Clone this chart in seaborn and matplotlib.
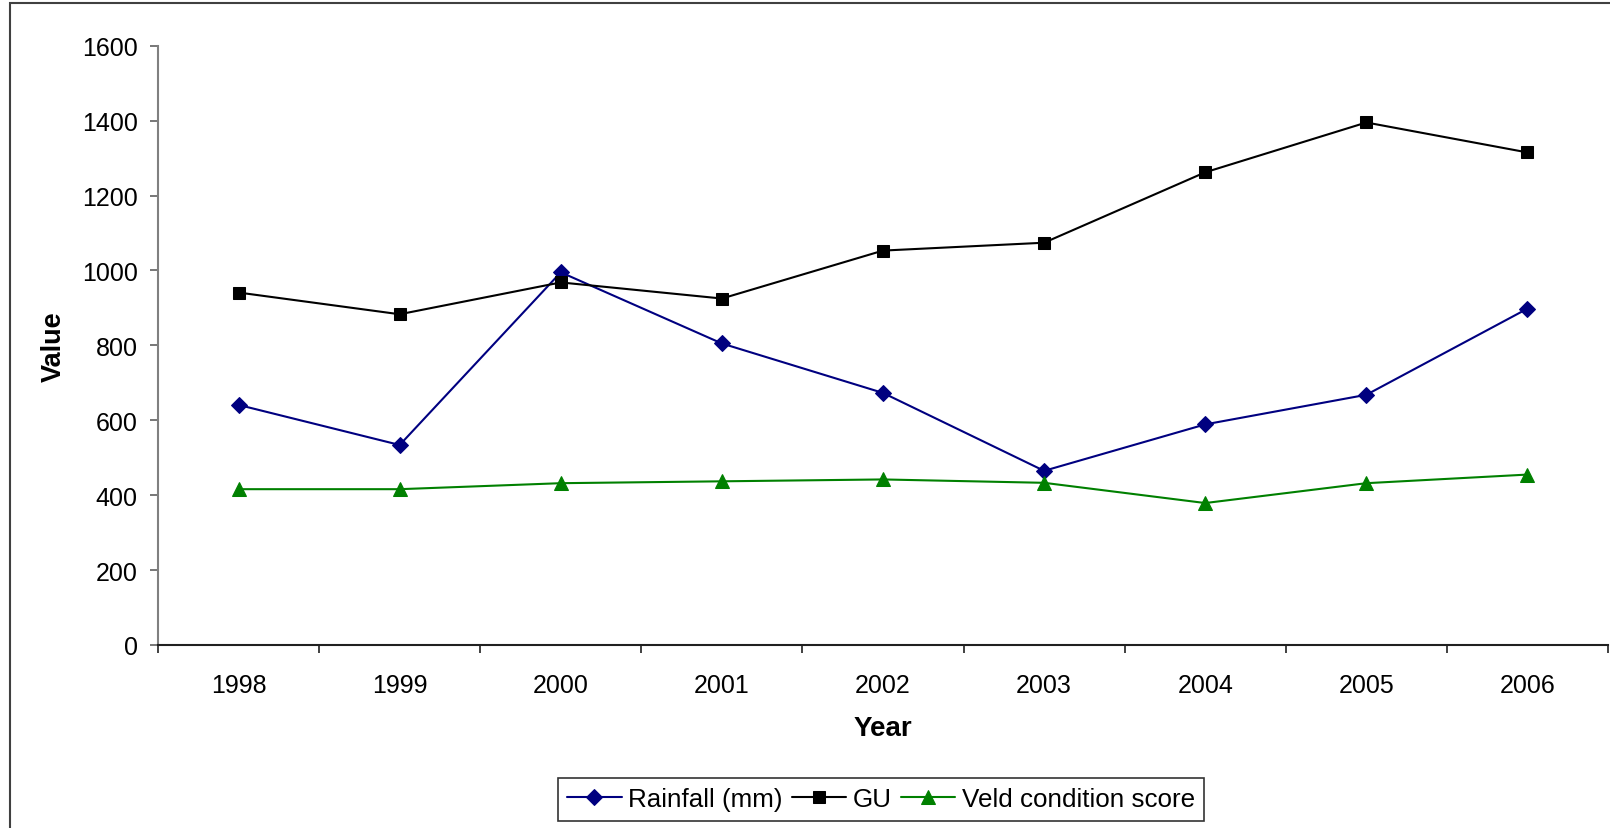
import matplotlib
matplotlib.use("Agg")
import matplotlib.pyplot as plt
from matplotlib.patches import Rectangle
import numpy as np
import pandas as pd
import seaborn as sns

years = [1998, 1999, 2000, 2001, 2002, 2003, 2004, 2005, 2006]
rainfall = [641, 534, 995, 805, 673, 465, 589, 668, 898]
gu = [941, 883, 968, 925, 1053, 1074, 1262, 1395, 1315]
veld = [416, 416, 432, 437, 442, 433, 379, 432, 455]
y_ticks = [0, 200, 400, 600, 800, 1000, 1200, 1400, 1600]

sns.set_theme(style="white")
plt.rcParams["font.family"] = ["Liberation Sans", "DejaVu Sans"]
plt.rcParams["text.color"] = "black"
plt.rcParams["axes.labelcolor"] = "black"

W, H = 1610, 829
fig = plt.figure(figsize=(W / 100, H / 100), dpi=100)
fig.patch.set_facecolor("white")

# chart-area frame
fig.add_artist(Rectangle((10 / W, -0.05), 1.2, 1 - 4 / H + 0.05,
                         transform=fig.transFigure, fill=False,
                         edgecolor="#404040", linewidth=1.5))

ax = fig.add_axes([158 / W, (H - 646) / H, 1450 / W, 599.3 / H])
ax.set_facecolor("white")

df = pd.DataFrame({"Year": years, "Rainfall (mm)": rainfall,
                   "GU": gu, "Veld condition score": veld})

series = [
    ("Rainfall (mm)", "#000080", "D", 8.5),
    ("GU", "#000000", "s", 8.5),
    ("Veld condition score", "#008000", "^", 10),
]
for name, col, mk, ms in series:
    sns.lineplot(data=df, x="Year", y=name, ax=ax, color=col, marker=mk,
                 markersize=ms, markeredgecolor=col, linewidth=1.5,
                 label=name, legend=False)

ax.set_xlim(years[0] - 0.5, years[-1] + 0.5)
ax.set_ylim(0, 1600)
ax.set_yticks(y_ticks)
ax.set_yticklabels([str(v) for v in y_ticks])
ax.set_xticks(years)
ax.set_xticklabels([str(y) for y in years])
ax.set_xticks(np.arange(years[0] - 0.5, years[-1] + 1.0, 1.0), minor=True)

for s in ["top", "right"]:
    ax.spines[s].set_visible(False)
ax.spines["left"].set_color("#808080")
ax.spines["left"].set_linewidth(1.5)
ax.spines["bottom"].set_color("#202020")
ax.spines["bottom"].set_linewidth(1.5)

ax.tick_params(axis="y", which="major", left=True, length=5.5, width=1.2,
               color="#606060", pad=9, labelsize=18, labelcolor="black")
ax.tick_params(axis="x", which="major", bottom=True, length=0, pad=20,
               labelsize=18, labelcolor="black")
ax.tick_params(axis="x", which="minor", bottom=True, length=6, width=1.2,
               color="#202020")

ax.set_xlabel("Year", fontsize=20, fontweight="bold", labelpad=13,
              color="black")
ax.set_ylabel("Value", fontsize=19.5, fontweight="bold", labelpad=11,
              color="black")
ax.grid(False)

handles, labels = ax.get_legend_handles_labels()
leg = fig.legend(handles, labels, ncol=3, loc="center",
                 bbox_to_anchor=(881 / W, 1 - 800.5 / H),
                 bbox_transform=fig.transFigure, fontsize=18.7,
                 frameon=True, fancybox=False, edgecolor="black",
                 handlelength=2.1, handletextpad=0.25, columnspacing=0.35,
                 borderpad=0.35, borderaxespad=0)
leg.get_frame().set_linewidth(1.2)
for t in leg.get_texts():
    t.set_color("black")

fig.savefig("out.png", dpi=100)
